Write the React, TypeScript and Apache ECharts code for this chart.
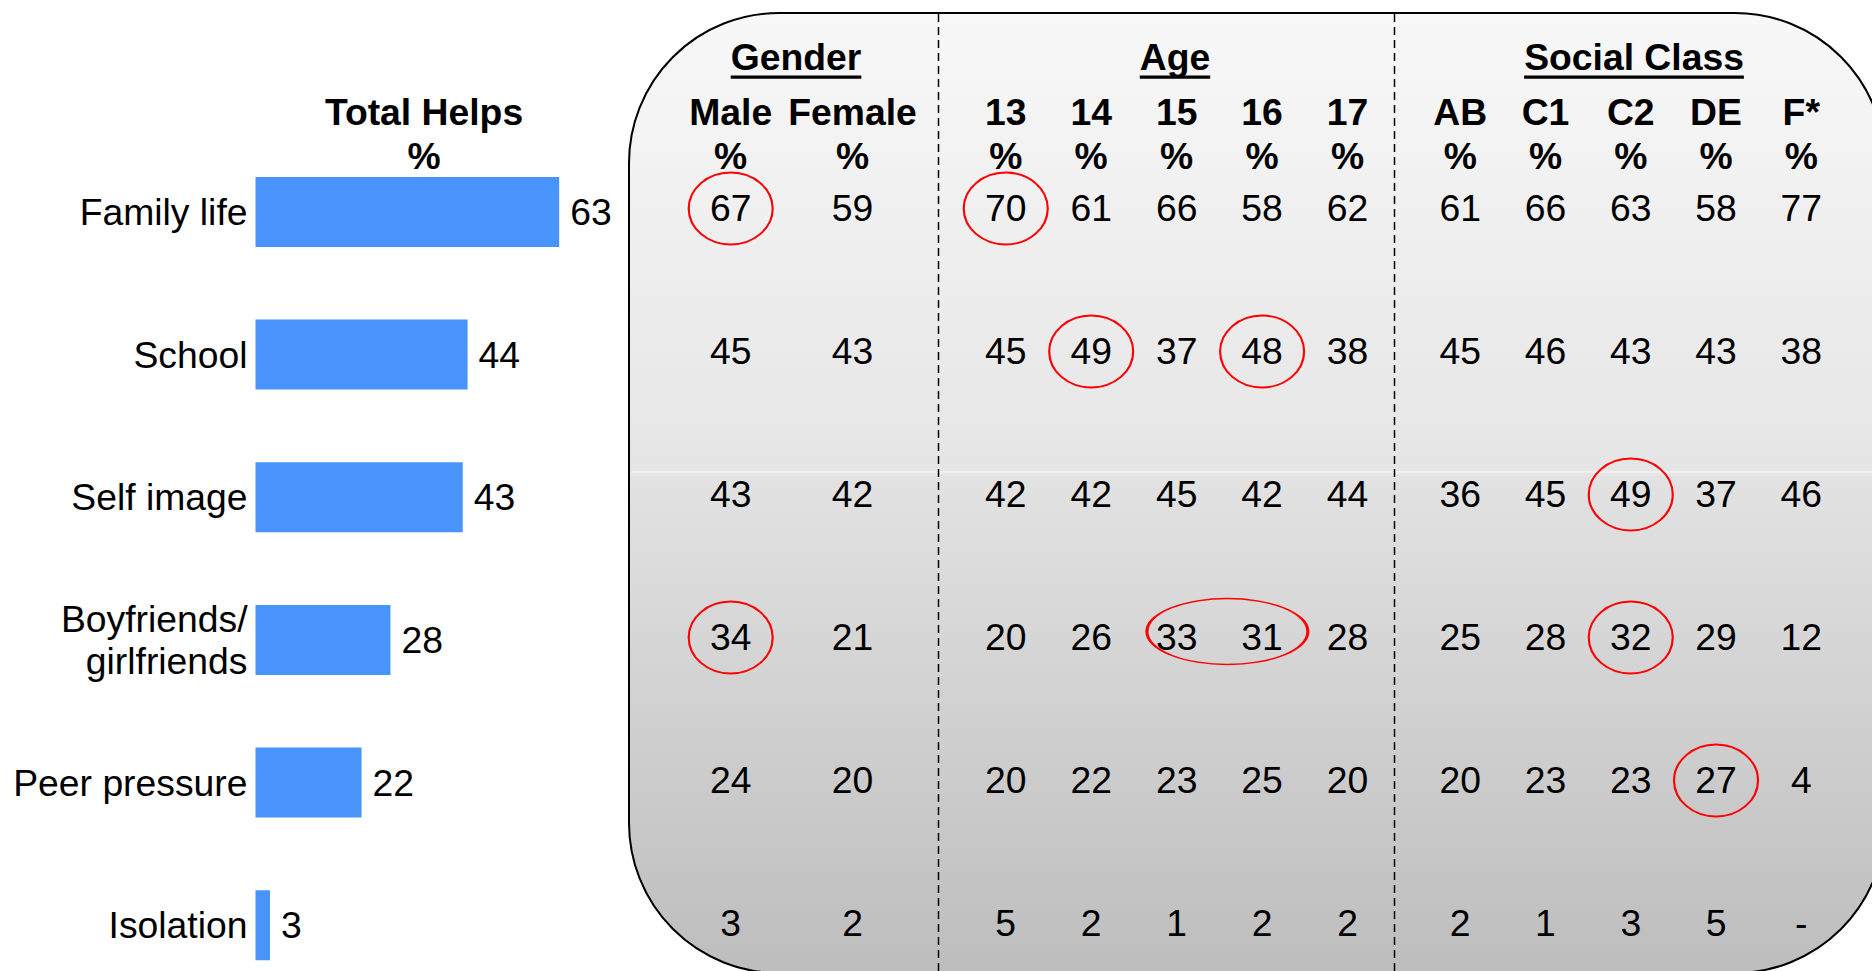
import React, { useEffect, useRef } from 'react';
import * as echarts from 'echarts';

// ---------- data ----------
const categories = ['Family life', 'School', 'Self image', 'Boyfriends/\ngirlfriends', 'Peer pressure', 'Isolation'];
const totalHelps = [63, 44, 43, 28, 22, 3];
const totalHeader = 'Total Helps\n%';

const genderTitle = 'Gender';
const genderColumns = ['Male', 'Female'];
const genderMale = [67, 45, 43, 34, 24, 3];
const genderFemale = [59, 43, 42, 21, 20, 2];

const ageTitle = 'Age';
const ageColumns = ['13', '14', '15', '16', '17'];
const age13 = [70, 45, 42, 20, 20, 5];
const age14 = [61, 49, 42, 26, 22, 2];
const age15 = [66, 37, 45, 33, 23, 1];
const age16 = [58, 48, 42, 31, 25, 2];
const age17 = [62, 38, 44, 28, 20, 2];

const classTitle = 'Social Class';
const classColumns = ['AB', 'C1', 'C2', 'DE', 'F*'];
const classAB = [61, 45, 36, 25, 20, 2];
const classC1 = [66, 46, 45, 28, 23, 1];
const classC2 = [63, 43, 49, 32, 23, 3];
const classDE = [58, 43, 37, 29, 27, 5];
const classF = [77, 38, 46, 12, 4, '-'];

// highlighted cells (column index, row index, number of columns spanned)
const genderHighlights = [
  { col: 0, row: 0, span: 1 },
  { col: 0, row: 3, span: 1 },
];
const ageHighlights = [
  { col: 0, row: 0, span: 1 },
  { col: 1, row: 1, span: 1 },
  { col: 3, row: 1, span: 1 },
  { col: 2, row: 3, span: 2 },
];
const classHighlights = [
  { col: 2, row: 2, span: 1 },
  { col: 2, row: 3, span: 1 },
  { col: 3, row: 4, span: 1 },
];

const FONT = '"Liberation Sans", Arial, Helvetica, sans-serif';
const FS = 37.3;
const ELLIPSE = 'path://M0,50A50,50,0,1,1,100,50A50,50,0,1,1,0,50Z';

export default function App() {
  const ref = useRef<HTMLDivElement>(null);

  useEffect(() => {
    const el = ref.current;
    if (!el) return;
    const chart = echarts.init(el, null, { renderer: 'svg' });

    const ctx = document.createElement('canvas').getContext('2d');
    const measureBold = (t: string) => {
      if (!ctx) return t.length * 20;
      ctx.font = `bold ${FS}px ${FONT}`;
      return ctx.measureText(t).width;
    };

    const groups = [
      { title: genderTitle, cols: genderColumns, values: [genderMale, genderFemale], hl: genderHighlights, left: 669.8, width: 243.6, titleX: 796 },
      { title: ageTitle, cols: ageColumns, values: [age13, age14, age15, age16, age17], hl: ageHighlights, left: 963, width: 427.3, titleX: 1175 },
      { title: classTitle, cols: classColumns, values: [classAB, classC1, classC2, classDE, classF], hl: classHighlights, left: 1417.6, width: 426.3, titleX: 1634 },
    ];

    const rowTop = 136;
    const rowHeight = 858;

    const grid: any[] = [
      { left: 255.5, width: 482, top: 140.6, height: 856, containLabel: false, outerBoundsMode: 'none' },
    ];
    const xAxis: any[] = [{ gridIndex: 0, type: 'value', min: 0, max: 100, show: false }];
    const yAxis: any[] = [
      {
        gridIndex: 0,
        type: 'category',
        data: categories,
        inverse: true,
        axisLine: { show: false },
        axisTick: { show: false },
        splitLine: { show: false },
        axisLabel: {
          margin: 8,
          fontSize: FS,
          lineHeight: 42,
          color: '#000',
          fontFamily: FONT,
          interval: 0,
          padding: [0, 0, 7, 0],
        },
      },
    ];
    const series: any[] = [
      {
        type: 'bar',
        xAxisIndex: 0,
        yAxisIndex: 0,
        data: totalHelps,
        barWidth: 70,
        itemStyle: { color: '#4894FA', opacity: 1 },
        label: { show: true, position: 'right', distance: 11, fontSize: FS, color: '#000', fontFamily: FONT },
        silent: true,
      },
    ];

    const graphics: any[] = [
      {
        type: 'rect',
        z: -10,
        shape: { x: 629, y: 13, width: 1256, height: 960, r: 150 },
        style: {
          fill: {
            type: 'linear', x: 0, y: 0, x2: 0, y2: 1,
            colorStops: [
              { offset: 0, color: '#f8f8f8' },
              { offset: 0.48, color: '#e5e5e5' },
              { offset: 0.485, color: '#e2e2e2' },
              { offset: 1, color: '#bdbdbd' },
            ],
          },
          stroke: '#000',
          lineWidth: 2,
        },
      },
      {
        type: 'line',
        z: -9,
        shape: { x1: 631, y1: 472, x2: 1872, y2: 472 },
        style: { stroke: 'rgba(255,255,255,0.75)', lineWidth: 1 },
      },
      {
        type: 'line',
        z: -8,
        shape: { x1: 938.5, y1: 14, x2: 938.5, y2: 972 },
        style: { stroke: '#000', lineWidth: 1.5, lineDash: [8, 5] },
      },
      {
        type: 'line',
        z: -8,
        shape: { x1: 1394.5, y1: 14, x2: 1394.5, y2: 972 },
        style: { stroke: '#000', lineWidth: 1.5, lineDash: [8, 5] },
      },
      {
        type: 'text',
        z: 10,
        x: 424,
        y: 134,
        style: {
          text: totalHeader,
          fill: '#000',
          fontSize: FS,
          fontWeight: 'bold',
          fontFamily: FONT,
          lineHeight: 44,
          align: 'center',
          textAlign: 'center',
          verticalAlign: 'middle',
          textVerticalAlign: 'middle',
        },
      },
    ];

    groups.forEach((g, gi) => {
      const gridIndex = gi + 1;
      grid.push({ left: g.left, width: g.width, top: rowTop, height: rowHeight, containLabel: false, outerBoundsMode: 'none' });
      xAxis.push({
        gridIndex,
        type: 'category',
        data: g.cols,
        position: 'top',
        offset: -42,
        axisLine: { show: false },
        axisTick: { show: false },
        splitLine: { show: false },
        axisLabel: {
          margin: 0,
          interval: 0,
          formatter: '{value}\n%',
          fontSize: FS,
          fontWeight: 'bold',
          lineHeight: 44,
          color: '#000',
          fontFamily: FONT,
        },
      });
      const valX = xAxis.length;
      xAxis.push({ gridIndex, type: 'value', min: -0.5, max: g.cols.length - 0.5, show: false });
      const yi = yAxis.length;
      yAxis.push({ gridIndex, type: 'category', data: categories, inverse: true, show: false });

      const cells: any[] = [];
      g.values.forEach((colVals: any[], c: number) => {
        colVals.forEach((v: any, r: number) => {
          cells.push({ value: [c, r], label: { formatter: String(v) } });
        });
      });
      series.push({
        type: 'scatter',
        xAxisIndex: valX,
        yAxisIndex: yi,
        symbolSize: 1,
        itemStyle: { color: 'rgba(0,0,0,0)', opacity: 1 },
        silent: true,
        z: 5,
        label: { show: true, position: 'inside', fontSize: FS, color: '#000', opacity: 1, fontFamily: FONT },
        data: cells,
      });
      series.push({
        type: 'scatter',
        xAxisIndex: valX,
        yAxisIndex: yi,
        symbol: ELLIPSE,
        silent: true,
        z: 4,
        itemStyle: { color: 'rgba(0,0,0,0)', borderColor: '#ff0000', borderWidth: 2, opacity: 1 },
        data: g.hl.map((h) => ({
          value: [h.col + (h.span - 1) / 2, h.row],
          symbolSize: h.span > 1 ? [161, 66] : [84, 72],
          symbolOffset: h.span > 1 ? [8, -5] : [0, 1],
        })),
      });

      const w = measureBold(g.title);
      graphics.push({
        type: 'text',
        z: 10,
        x: g.titleX,
        y: 57,
        style: {
          text: g.title,
          fill: '#000',
          fontSize: FS,
          fontWeight: 'bold',
          fontFamily: FONT,
          align: 'center',
          textAlign: 'center',
          verticalAlign: 'middle',
          textVerticalAlign: 'middle',
        },
      });
      graphics.push({
        type: 'rect',
        z: 10,
        shape: { x: g.titleX - w / 2, y: 75.5, width: w, height: 3.2 },
        style: { fill: '#000' },
      });
    });

    chart.setOption({
      animation: false,
      backgroundColor: '#fff',
      grid,
      xAxis,
      yAxis,
      series,
      graphic: graphics,
    });

    return () => chart.dispose();
  }, []);

  return (
    <div
      ref={ref}
      style={{ position: 'fixed', left: 0, top: 0, width: 1872, height: 971, background: '#fff' }}
    />
  );
}
